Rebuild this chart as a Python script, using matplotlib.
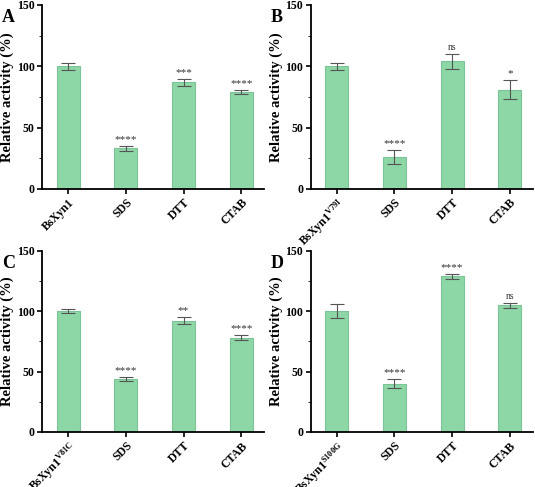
import matplotlib
matplotlib.use("Agg")
import matplotlib.pyplot as plt

plt.rcParams['font.family'] = ['Liberation Serif', 'DejaVu Serif']
plt.rcParams['font.weight'] = 'bold'
plt.rcParams['mathtext.fontset'] = 'custom'
plt.rcParams['mathtext.rm'] = 'Liberation Serif:bold'
plt.rcParams['mathtext.it'] = 'Liberation Serif:bold'
plt.rcParams['mathtext.bf'] = 'Liberation Serif:bold'

panels = ['A', 'B', 'C', 'D']
labels_A = ['BsXyn1', 'SDS', 'DTT', 'CTAB']
labels_B = [r'BsXyn1$^{\mathrm{V79I}}$', 'SDS', 'DTT', 'CTAB']
labels_C = [r'BsXyn1$^{\mathrm{V81C}}$', 'SDS', 'DTT', 'CTAB']
labels_D = [r'BsXyn1$^{\mathrm{S100G}}$', 'SDS', 'DTT', 'CTAB']
vals_A = [100, 33, 87, 79]; err_A = [3, 2, 3, 2]; sig_A = ['', '****', '***', '****']
vals_B = [100, 26, 104, 81]; err_B = [3, 6, 6, 8]; sig_B = ['', '****', 'ns', '*']
vals_C = [100, 44, 92, 78]; err_C = [1.5, 1.5, 3, 2]; sig_C = ['', '****', '**', '****']
vals_D = [100, 40, 129, 105]; err_D = [6, 4, 2, 2]; sig_D = ['', '****', '****', 'ns']

data = [(labels_A, vals_A, err_A, sig_A), (labels_B, vals_B, err_B, sig_B),
        (labels_C, vals_C, err_C, sig_C), (labels_D, vals_D, err_D, sig_D)]
rects = [[0.079, 0.612, 0.415, 0.378], [0.581, 0.612, 0.415, 0.378],
         [0.079, 0.113, 0.415, 0.372], [0.581, 0.113, 0.415, 0.372]]

fig = plt.figure(figsize=(5.35, 4.87), dpi=100)
for p, (labs, v, e, s), r in zip(panels, data, rects):
    ax = fig.add_axes(r)
    x = range(len(v))
    ax.bar(x, v, width=0.4, color='#8dd6a6', edgecolor='#7cc497', linewidth=0.8,
           yerr=e, capsize=5, error_kw=dict(ecolor='#555555', elinewidth=0.8, capthick=0.8))
    for xi, vi, ei, si in zip(x, v, e, s):
        if si:
            fs = 7 if si == 'ns' else 8
            ax.text(xi, vi + ei + 1.5, si, ha='center', va='bottom', fontsize=fs,
                    color='#333333', fontweight='normal')
    ax.set_ylim(0, 150)
    ax.set_xlim(-0.45, 3.4)
    ax.set_yticks([0, 50, 100, 150])
    ax.set_yticks([25, 75, 125], minor=True)
    ax.set_xticks(list(x))
    ax.set_xticklabels(labs, rotation=45, ha='right', rotation_mode='anchor', fontsize=8.5)
    ax.tick_params(axis='y', labelsize=8.5, width=1.2, pad=2)
    ax.tick_params(axis='x', width=1.2, pad=2)
    for sp in ['top', 'right']:
        ax.spines[sp].set_visible(False)
    for sp in ['left', 'bottom']:
        ax.spines[sp].set_linewidth(1.3)
    ax.set_ylabel('Relative activity (%)', fontsize=10.5, fontweight='bold', labelpad=2)
    fig.text(0.004 + (r[0] - 0.079), r[1] + r[3] - 0.035, p, fontsize=13, fontweight='bold')

fig.savefig('out.png', dpi=100)
